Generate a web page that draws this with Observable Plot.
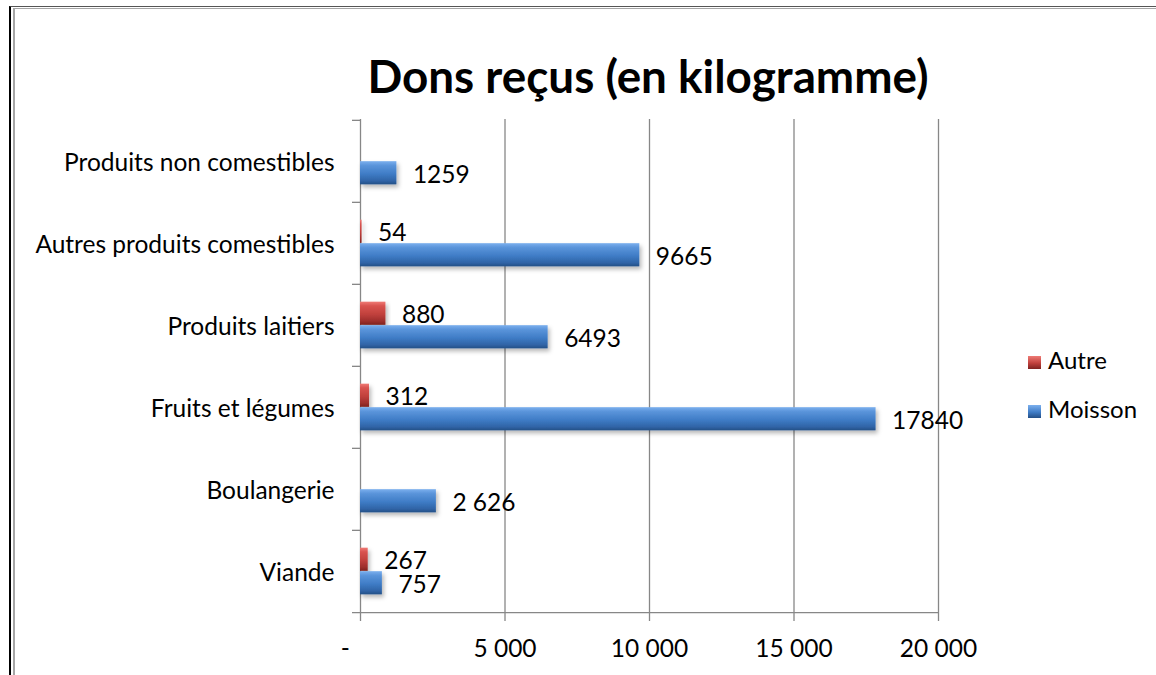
<!DOCTYPE html>
<html>
<head>
<meta charset="utf-8">
<script src="https://cdn.jsdelivr.net/npm/d3@7"></script>
<script src="https://cdn.jsdelivr.net/npm/@observablehq/plot@0.6"></script>
<style>
  html, body { margin: 0; padding: 0; background: #fff; }
  #wrap { position: relative; width: 1156px; height: 675px; overflow: hidden; background: #fff; font-family: Lato, "Liberation Sans", sans-serif; }
  .b1 { position: absolute; left: 9px; top: 6px; width: 1300px; height: 900px; border-left: 2px solid #000; border-top: 1px solid #555; }
  .b2 { position: absolute; left: 13px; top: 8px; width: 1300px; height: 900px; border-left: 2px solid #a6a6a6; border-top: 1px solid #a6a6a6; }
  #title { position: absolute; left: 348px; width: 600px; top: 53px; text-align: center; font-weight: bold; font-size: 45.8px; line-height: 1; color: #000; white-space: nowrap; }
  #chart { position: absolute; left: 0; top: 100px; }
  .leg { position: absolute; left: 1028px; font-size: 24px; line-height: 1; color: #000; white-space: nowrap; }
  .sw { display: inline-block; width: 13px; height: 13px; margin-right: 7px; vertical-align: 0px; }
</style>
</head>
<body>
<div id="wrap">
  <div class="b1"></div>
  <div class="b2"></div>
  <div id="title"></div>
  <div id="chart"></div>
  <div id="legend"></div>
</div>
<script>
// ---- data ----
const titleText = "Dons reçus (en kilogramme)";
const categories = ["Viande", "Boulangerie", "Fruits et légumes", "Produits laitiers", "Autres produits comestibles", "Produits non comestibles"];
const series = ["Autre", "Moisson"];
const autre = [267, null, 312, 880, 54, null];
const moisson = [757, 2626, 17840, 6493, 9665, 1259];
const autreLabels = ["267", null, "312", "880", "54", null];
const moissonLabels = ["757", "2 626", "17840", "6493", "9665", "1259"];
const xTicks = [0, 5000, 10000, 15000, 20000];
const xTickLabels = ["-", "5 000", "10 000", "15 000", "20 000"];

// ---- layout ----
const W = 1156, H = 575;
const mT = 19, mB = 62, mL = 360, mR = 218;
const bw = (H - mT - mB) / categories.length;
const barH = 23.5;
const grid = "#878787";

const rowsAutre = [], rowsMoisson = [];
categories.forEach((c, i) => {
  if (autre[i] != null) rowsAutre.push({cat: c, series: series[0], value: autre[i], label: autreLabels[i]});
  rowsMoisson.push({cat: c, series: series[1], value: moisson[i], label: moissonLabels[i]});
});

const yDomain = categories.slice().reverse();

const plot = Plot.plot({
  width: W, height: H,
  marginTop: mT, marginBottom: mB, marginLeft: mL, marginRight: mR,
  style: {fontFamily: "Lato, 'Liberation Sans', sans-serif", fontSize: "24.5px", color: "#000", background: "transparent"},
  x: {domain: [0, 20000]},
  y: {domain: yDomain, padding: 0},
  marks: [
    Plot.gridX(xTicks.slice(1), {stroke: grid, strokeOpacity: 1, strokeWidth: 1.3}),
    Plot.ruleX([0], {stroke: grid, strokeWidth: 1.3}),
    Plot.ruleY(yDomain, {y: d => d, x1: d => 0, x2: d => 0, insetLeft: -8, dy: -bw / 2, stroke: grid, strokeWidth: 1.3}),
    Plot.ruleY([categories[0]], {y: d => d, x1: d => 0, x2: d => 20000, insetLeft: -8, dy: bw / 2, stroke: grid, strokeWidth: 1.3}),
    Plot.barX(rowsAutre, {x: "value", y: "cat", fill: "url(#gRed)", insetTop: bw / 2 - barH, insetBottom: bw / 2}),
    Plot.barX(rowsMoisson, {x: "value", y: "cat", fill: "url(#gBlue)", insetTop: bw / 2, insetBottom: bw / 2 - barH}),
    Plot.text(rowsAutre, {x: "value", y: "cat", text: "label", dx: 16, dy: -barH / 2 + 1, textAnchor: "start", fill: "#000"}),
    Plot.text(rowsMoisson, {x: "value", y: "cat", text: "label", dx: 16, dy: barH / 2 + 2, textAnchor: "start", fill: "#000"}),
    Plot.axisY({tickSize: 0, tickPadding: 26, dy: 2, label: null, fill: "#000"}),
    Plot.axisX(xTicks, {tickSize: 8, tickPadding: 18, label: null, stroke: grid, strokeWidth: 1.3, fill: "#000",
      tickFormat: d => { const s = xTickLabels[xTicks.indexOf(d)]; return d === 0 ? s + "\u2003\u2002" : s; }})
  ]
});

// gradients + shadow for bevelled bars
const ns = "http://www.w3.org/2000/svg";
const defs = document.createElementNS(ns, "defs");
defs.innerHTML = `
  <linearGradient id="gBlue" x1="0" y1="0" x2="0" y2="1">
    <stop offset="0" stop-color="#7cb0ee"/>
    <stop offset="0.18" stop-color="#5b95db"/>
    <stop offset="0.55" stop-color="#3f7cc6"/>
    <stop offset="0.85" stop-color="#2f64a6"/>
    <stop offset="1" stop-color="#244f86"/>
  </linearGradient>
  <linearGradient id="gRed" x1="0" y1="0" x2="0" y2="1">
    <stop offset="0" stop-color="#ef7b76"/>
    <stop offset="0.18" stop-color="#d9534f"/>
    <stop offset="0.55" stop-color="#c0403c"/>
    <stop offset="0.85" stop-color="#9c2e2b"/>
    <stop offset="1" stop-color="#7e2220"/>
  </linearGradient>
  <filter id="shadow" x="-10%" y="-30%" width="130%" height="180%">
    <feDropShadow dx="2" dy="3" stdDeviation="2" flood-color="#000" flood-opacity="0.28"/>
  </filter>`;
plot.insertBefore(defs, plot.firstChild);
plot.querySelectorAll('g[aria-label="bar"]').forEach(g => g.setAttribute("filter", "url(#shadow)"));

document.getElementById("chart").appendChild(plot);
document.getElementById("title").textContent = titleText;

// legend
const legend = document.getElementById("legend");
const legTops = [348, 397];
const legFills = ["linear-gradient(#ef7b76, #c0403c 55%, #7e2220)", "linear-gradient(#7cb0ee, #3f7cc6 55%, #244f86)"];
series.forEach((s, i) => {
  const d = document.createElement("div");
  d.className = "leg";
  d.style.top = legTops[i] + "px";
  const sw = document.createElement("span");
  sw.className = "sw";
  sw.style.background = legFills[i];
  d.appendChild(sw);
  d.appendChild(document.createTextNode(s));
  legend.appendChild(d);
});
</script>
</body>
</html>
